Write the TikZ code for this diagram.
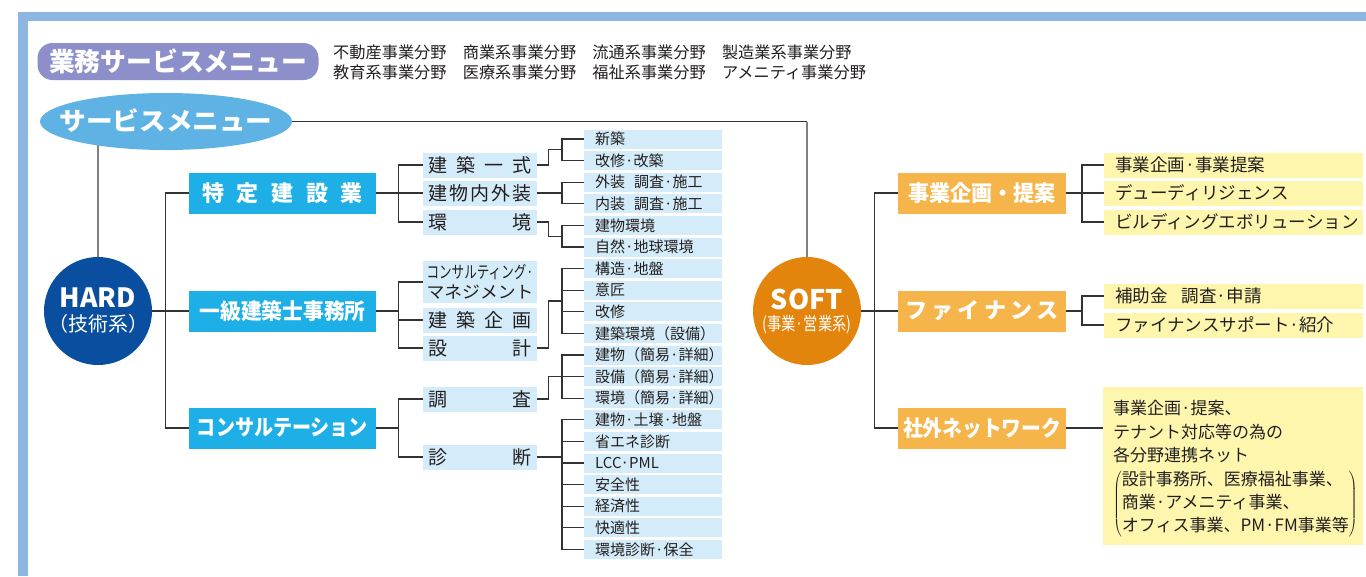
\documentclass[tikz,border=0pt]{standalone}
\usepackage{fontspec}
\setmainfont{Noto Sans CJK JP}
\usepackage{graphicx}
\usetikzlibrary{calc,shapes.geometric}

\definecolor{framecol}{HTML}{8DB6E3}
\definecolor{pillcol}{HTML}{8C8FC9}
\definecolor{ovalcol}{HTML}{5FB2E4}
\definecolor{hardcol}{HTML}{0A4F9F}
\definecolor{skyblue}{HTML}{1DAFE6}
\definecolor{paleblue}{HTML}{D4ECF9}
\definecolor{softcol}{HTML}{E3840D}
\definecolor{orangecol}{HTML}{F6B54B}
\definecolor{lemon}{HTML}{FFF6AE}
\definecolor{textcol}{HTML}{231F20}

\newcommand{\squeeze}[2]{\resizebox{#1}{\height}{#2}}

\pgfdeclarelayer{background}
\pgfsetlayers{background,main}

\tikzset{
  link/.style={draw=black!80, line width=1.2pt},
  stem/.style={draw=black!50, line width=1.8pt},
  pill/.style={fill=pillcol, rounded corners=15pt, minimum width=281pt, minimum height=37pt,
    inner sep=0pt, text=white, font=\fontsize{26}{28}\selectfont\bfseries},
  fields/.style={anchor=west, align=left, inner sep=0pt, text=textcol, font=\fontsize{16.2}{20}\selectfont},
  menuoval/.style={ellipse, fill=ovalcol, minimum width=252pt, minimum height=57pt, inner sep=0pt},
  bigdot/.style={circle, minimum size=108pt, inner sep=0pt},
  dotlabel/.style={inner sep=0pt, text=white},
  lvone/.style={fill=skyblue, minimum width=187pt, minimum height=41pt, inner sep=0pt,
    text=white, font=\fontsize{22}{24}\selectfont\bfseries},
  lvtwo/.style={fill=paleblue, minimum width=114pt, minimum height=25pt, inner sep=0pt,
    align=center, text=textcol, font=\fontsize{19}{20}\selectfont},
  lvthree/.style={fill=paleblue, anchor=west, minimum height=19pt, inner ysep=0pt, inner xsep=11pt,
    text width=116pt, align=left, text=textcol, font=\fontsize{15}{17}\selectfont},
  softbox/.style={fill=orangecol, minimum width=168pt, minimum height=41pt, inner sep=0pt,
    text=white, font=\fontsize{22}{24}\selectfont\bfseries},
  ylw/.style={fill=lemon, anchor=west, minimum height=25pt, inner ysep=0pt, inner xsep=11pt,
    text width=237pt, align=left, text=textcol, font=\fontsize{17.5}{20}\selectfont},
  netbox/.style={fill=lemon, anchor=north west, minimum width=260pt, minimum height=158pt,
    inner xsep=10pt, inner ysep=0pt, text width=240pt, align=left, text=textcol,
    font=\fontsize{17}{23.4}\selectfont}
}

\begin{document}
\begin{tikzpicture}[x=1pt,y=-1pt]
    \useasboundingbox (0,0) rectangle (1366,576);

    % frame
    \fill[framecol] (18,12) rectangle (1366,21);
    \fill[framecol] (18,12) rectangle (28,576);

    % heading
    \node[pill] (gyomu) at (178,61.5) {\squeeze{258pt}{業務サービスメニュー}};
    \node[fields] (fieldlist) at (333,62) {不動産事業分野　商業系事業分野　流通系事業分野　製造業系事業分野\\
        教育系事業分野　医療系事業分野　福祉系事業分野　アメニティ事業分野};

    \node[menuoval] (menu) at (166,121.5) {};
    \node[dotlabel, font=\fontsize{25}{26}\selectfont\bfseries] (menulabel) at (166,120) {\squeeze{213pt}{サービスメニュー}};

    % HARD
    \node[bigdot, fill=hardcol] (hard) at (98,311) {};
    \node[dotlabel, font=\fontsize{26.5}{28}\selectfont\bfseries] (hardname) at (98,298) {HARD};
    \node[dotlabel, font=\fontsize{20}{22}\selectfont] (hardsub) at (98,323.5) {（技術系）};

    \node[lvone] (tokutei) at (282.5,193) {\makebox[161pt][s]{特\hfill 定\hfill 建\hfill 設\hfill 業}};
    \node[lvone] (ikkyu) at (282.5,311) {\squeeze{166pt}{一級建築士事務所}};
    \node[lvone] (consul) at (282.5,428) {\squeeze{171pt}{コンサルテーション}};

    \node[lvtwo] (kenchiku) at (480,165) {\makebox[103pt][s]{建\hfill 築\hfill 一\hfill 式}};
    \node[lvtwo] (naigai) at (480,193) {\makebox[103pt][s]{建\hfill 物\hfill 内\hfill 外\hfill 装}};
    \node[lvtwo] (kankyo) at (480,222) {\makebox[103pt][s]{環\hfill 境}};
    \node[lvtwo, minimum height=42pt, font=\fontsize{17}{20}\selectfont] (consmg) at (480,282)
        {\squeeze{107pt}{コンサルティング·}\\\squeeze{107pt}{マネジメント}};
    \node[lvtwo] (kikaku) at (480,320) {\makebox[103pt][s]{建\hfill 築\hfill 企\hfill 画}};
    \node[lvtwo] (sekkei) at (480,348) {\makebox[103pt][s]{設\hfill 計}};
    \node[lvtwo] (chosa) at (480,399) {\makebox[103pt][s]{調\hfill 査}};
    \node[lvtwo] (shindan) at (480,457) {\makebox[103pt][s]{診\hfill 断}};

    \node[lvthree] (r1) at (584,139.0) {新築};
    \node[lvthree] (r2) at (584,160.6) {改修·改築};
    \node[lvthree] (r3) at (584,182.2) {外装\hspace{0.6em}調査·施工};
    \node[lvthree] (r4) at (584,203.8) {内装\hspace{0.6em}調査·施工};
    \node[lvthree] (r5) at (584,225.4) {建物環境};
    \node[lvthree] (r6) at (584,247.0) {自然·地球環境};
    \node[lvthree] (r7) at (584,268.6) {構造·地盤};
    \node[lvthree] (r8) at (584,290.2) {意匠};
    \node[lvthree] (r9) at (584,311.8) {改修};
    \node[lvthree] (r10) at (584,333.4) {建築環境（設備）};
    \node[lvthree] (r11) at (584,355.0) {建物（簡易·詳細）};
    \node[lvthree] (r12) at (584,376.6) {設備（簡易·詳細）};
    \node[lvthree] (r13) at (584,398.2) {環境（簡易·詳細）};
    \node[lvthree] (r14) at (584,419.8) {建物·土壌·地盤};
    \node[lvthree] (r15) at (584,441.4) {省エネ診断};
    \node[lvthree] (r16) at (584,463.0) {LCC·PML};
    \node[lvthree] (r17) at (584,484.6) {安全性};
    \node[lvthree] (r18) at (584,506.2) {経済性};
    \node[lvthree] (r19) at (584,527.8) {快適性};
    \node[lvthree] (r20) at (584,549.4) {環境診断·保全};

    % SOFT
    \node[bigdot, fill=softcol] (soft) at (807,311) {};
    \node[dotlabel, font=\fontsize{27}{28}\selectfont\bfseries] (softname) at (807,299) {SOFT};
    \node[dotlabel, font=\fontsize{18}{20}\selectfont] (softsub) at (807,325) {\squeeze{89pt}{(事業·営業系)}};

    \node[softbox] (jigyo) at (982,193) {\squeeze{148pt}{事業企画・提案}};
    \node[softbox] (finance) at (982,311) {\makebox[153pt][s]{フ\hfill ァ\hfill イ\hfill ナ\hfill ン\hfill ス}};
    \node[softbox] (network) at (982,428) {\squeeze{158pt}{社外ネットワーク}};

    \node[ylw] (y1) at (1104,165) {事業企画·事業提案};
    \node[ylw] (y2) at (1104,193) {デューディリジェンス};
    \node[ylw] (y3) at (1104,222) {ビルディングエボリューション};
    \node[ylw] (y4) at (1104,296) {補助金\hspace{0.8em}調査·申請};
    \node[ylw] (y5) at (1104,325) {ファイナンスサポート·紹介};
    \node[netbox] (netbox) at (1103,387) {\raisebox{-2.5pt}[\height][\depth]{%
        \delimiterfactor=820 \delimitershortfall=8pt
        \begin{tabular}{@{}l@{}}事業企画·提案、\\テナント対応等の為の\\各分野連携ネット\\
        $\left(\begin{tabular}{@{}l@{}}設計事務所、医療福祉事業、\\商業·アメニティ事業、\\オフィス事業、PM·FM事業等\end{tabular}\right)$
        \end{tabular}}};

    % connectors
    \begin{pgfonlayer}{background}
        \draw[stem] (hard.north) -- (hard.north |- menu.center);
    \end{pgfonlayer}
    \draw[link] (menu.east) -- (menu.east -| soft.north);
    \draw[stem] (menu.east -| soft.north) -- (soft.north);

    \draw[link] (hard.east) -- (ikkyu.west);
    \draw[link] (tokutei.west) -- ++(-23,0) |- (consul.west);
    \draw[link] (tokutei.east) -- (naigai.west);
    \draw[link] (kenchiku.west) -- ++(-24,0) |- (kankyo.west);
    \draw[link] (ikkyu.east) -- ++(23,0);
    \draw[link] (consmg.west) -- ++(-24,0) |- (sekkei.west);
    \draw[link] (kikaku.west) -- ++(-24,0);
    \draw[link] (consul.east) -- ++(23,0);
    \draw[link] (chosa.west) -- ++(-24,0) |- (shindan.west);

    \draw[link] (r1.west) -- ++(-22,0) |- (r2.west);
    \draw[link] (kenchiku.east) -- ++(11,0) |- ($(r1.west)!0.5!(r2.west)+(-22,0)$);
    \draw[link] (r3.west) -- ++(-22,0) |- (r4.west);
    \draw[link] (naigai.east) -- ++(25,0);
    \draw[link] (r5.west) -- ++(-22,0) |- (r6.west);
    \draw[link] (kankyo.east) -- ++(11,0) |- ($(r5.west)!0.5!(r6.west)+(-22,0)$);
    \draw[link] (r7.west) -- ++(-22,0) |- (r10.west);
    \draw[link] (r8.west) -- ++(-22,0);
    \draw[link] (r9.west) -- ++(-22,0);
    \draw[link] (sekkei.east) -- ++(11,0) |- ($(r7.west)!0.5!(r10.west)+(-22,0)$);
    \draw[link] (r11.west) -- ++(-22,0) |- (r13.west);
    \draw[link] (r12.west) -- ++(-22,0);
    \draw[link] (chosa.east) -- ++(11,0) |- ($(r11.west)!0.5!(r13.west)+(-22,0)$);
    \draw[link] (r14.west) -- ++(-22,0) |- (r20.west);
    \foreach \i in {15,...,19}
        \draw[link] (r\i.west) -- ++(-22,0);
    \draw[link] (shindan.east) -- ++(25,0);

    \draw[link] (soft.east) -- (finance.west);
    \draw[link] (jigyo.west) -- ++(-23,0) |- (network.west);
    \draw[link] (y1.west) -- ++(-22,0) |- (y3.west);
    \draw[link] (jigyo.east) -- (y2.west);
    \draw[link] (y4.west) -- ++(-22,0) |- (y5.west);
    \draw[link] (finance.east) -- ++(16,0);
    \draw[link] (network.east) -- (network.east -| netbox.west);
\end{tikzpicture}
\end{document}
